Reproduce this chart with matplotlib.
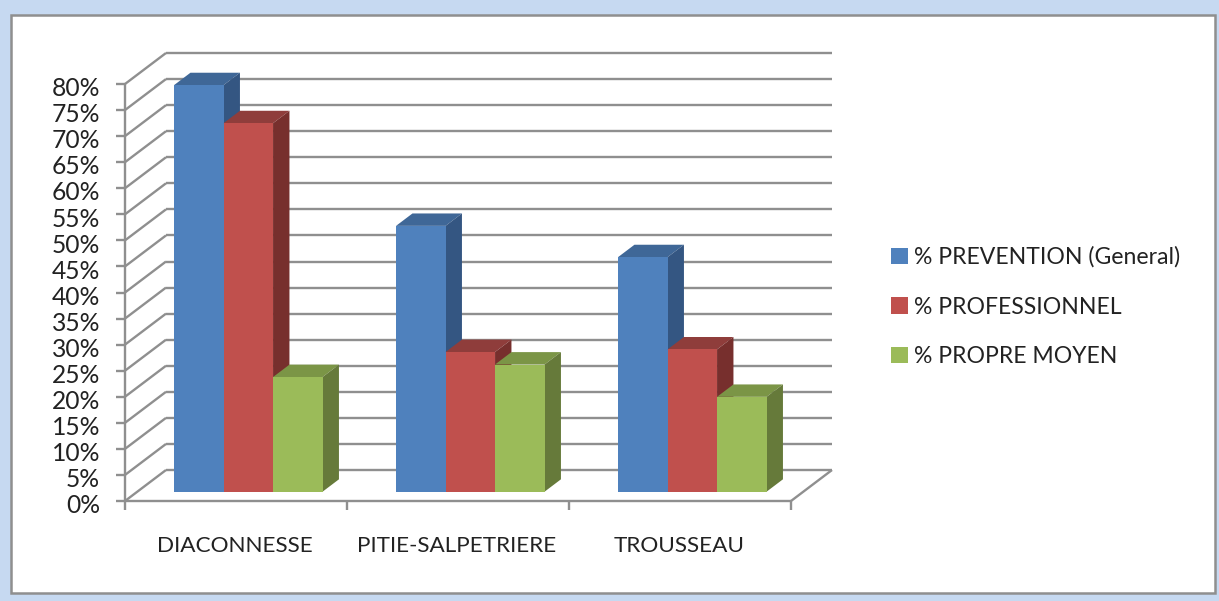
import matplotlib
matplotlib.use("Agg")
import matplotlib.pyplot as plt
from matplotlib.patches import Polygon, Rectangle

plt.rcParams['font.family'] = ['Lato', 'DejaVu Sans']

categories = ["DIACONNESSE", "PITIE-SALPETRIERE", "TROUSSEAU"]
series_names = ["% PREVENTION (General)", "% PROFESSIONNEL", "% PROPRE MOYEN"]
prevention = [78.0, 51.0, 45.0]
professionnel = [70.7, 26.8, 27.3]
propre = [22.0, 24.4, 18.2]
ticks = list(range(0, 85, 5))

front_colors = ["#4f81bd", "#c0504d", "#9bbb59"]
top_colors = ["#3f6797", "#8f3d3b", "#7b9546"]
side_colors = ["#345682", "#772f2d", "#667a3a"]
GRID = "#8f8f8f"

W, H = 1219, 601
PX_X = 222.0      # px per category
PX_Y = 5.2125     # px per percent
X0, Y0 = 125, 501  # pixel position of origin
DX = 41 / PX_X    # full depth shift, x data units
DY = 31 / PX_Y    # full depth shift, y data units
BAR_W = 49.5 / PX_X
D_FRONT, D_BACK = 0.30, 0.70
TOP = 80.0

fig = plt.figure(figsize=(W / 100, H / 100), dpi=100, facecolor="#c6d9f1")
ax = fig.add_axes([0, 0, 1, 1])
ax.set_xlim(-X0 / PX_X, (W - X0) / PX_X)
ax.set_ylim(-(H - Y0) / PX_Y, Y0 / PX_Y)
ax.axis("off")

def pr(x, v, d=0.0):
    return (x + d * DX, v + d * DY)

# chart frame (figure pixel units)
fig.patches.append(Rectangle((11 / W, 1 - 593 / H), (1215 - 11) / W, (593 - 15) / H,
                             transform=fig.transFigure, facecolor="white",
                             edgecolor=GRID, linewidth=1.8, zorder=-1))

n = len(categories)
line = dict(color=GRID, lw=1.7, solid_capstyle="butt", zorder=1)
for t in ticks:
    ax.plot(*zip(pr(0, t, 0), pr(0, t, 1)), **line)
    ax.plot(*zip(pr(0, t, 1), pr(n, t, 1)), **line)
    ax.plot(*zip(pr(-9 / PX_X, t), pr(0, t)), **line)
    ax.text(pr(-25 / PX_X, t)[0], t - 0.9, f"{t}%", ha="right", va="center",
            fontsize=17.7, color="#222222")
ax.plot(*zip(pr(0, 0), pr(0, TOP)), **line)
ax.plot(*zip(pr(0, 0), pr(n, 0)), **line)
ax.plot(*zip(pr(n, 0, 0), pr(n, 0, 1)), **line)
for i in range(n + 1):
    ax.plot(*zip(pr(i, 0), pr(i, -9 / PX_Y)), **line)

for i, cat in enumerate(categories):
    ax.text(i + 0.5 - 1 / PX_X, -8.7, cat, ha="center", va="center", fontsize=16.2, color="#222222")

all_series = [prevention, professionnel, propre]
for i in range(n):
    start = i + 0.5 - 1.5 * BAR_W
    for s, vals in enumerate(all_series):
        v = vals[i]
        x0, x1 = start + s * BAR_W, start + (s + 1) * BAR_W
        top = [pr(x0, v, D_FRONT), pr(x1, v, D_FRONT), pr(x1, v, D_BACK), pr(x0, v, D_BACK)]
        side = [pr(x1, 0, D_FRONT), pr(x1, v, D_FRONT), pr(x1, v, D_BACK), pr(x1, 0, D_BACK)]
        front = [pr(x0, 0, D_FRONT), pr(x1, 0, D_FRONT), pr(x1, v, D_FRONT), pr(x0, v, D_FRONT)]
        for pts, col in ((top, top_colors[s]), (side, side_colors[s]), (front, front_colors[s])):
            ax.add_patch(Polygon(pts, closed=True, facecolor=col, edgecolor="none", zorder=3))

handles = [Rectangle((0, 0), 1, 1, facecolor=c, edgecolor="none") for c in front_colors]
leg = ax.legend(handles, series_names, loc="upper left",
                bbox_to_anchor=(884 / W, 1 - 239.5 / H), frameon=False,
                fontsize=16.6, handlelength=0.72, handleheight=0.72,
                handletextpad=0.27, labelspacing=1.24, borderpad=0.3, borderaxespad=0,
                labelcolor="#222222")

fig.savefig("out.png", dpi=100, facecolor=fig.get_facecolor())
